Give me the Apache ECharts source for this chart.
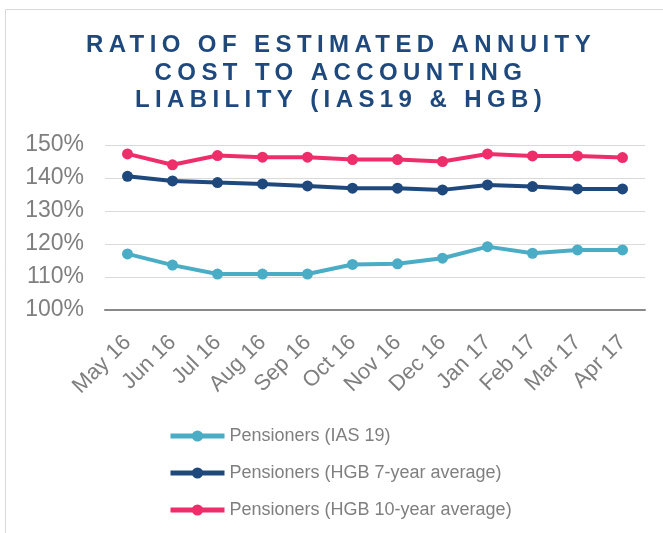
<!DOCTYPE html>
<html>
<head>
<meta charset="utf-8">
<title>Ratio of estimated annuity cost to accounting liability</title>
<script src="https://cdn.jsdelivr.net/npm/echarts@6/dist/echarts.min.js"></script>
<style>
    html, body { margin: 0; padding: 0; background: #fff; }
    #main { width: 663px; height: 533px; }
</style>
</head>
<body>
<div id="main"></div>
<script>
// 月份
var months = ['May 16', 'Jun 16', 'Jul 16', 'Aug 16', 'Sep 16', 'Oct 16',
    'Nov 16', 'Dec 16', 'Jan 17', 'Feb 17', 'Mar 17', 'Apr 17'];

// 各序列数值 (%)
var ias19 = [117.0, 113.6, 110.9, 110.9, 110.9, 113.8, 114.0, 115.7, 119.2, 117.2, 118.2, 118.2];
var hgb7 = [140.5, 139.1, 138.6, 138.2, 137.6, 136.9, 136.9, 136.4, 137.9, 137.4, 136.7, 136.7];
var hgb10 = [147.3, 144.0, 146.8, 146.3, 146.3, 145.6, 145.6, 145.0, 147.3, 146.7, 146.7, 146.2];

var seriesNames = ['Pensioners (IAS 19)', 'Pensioners (HGB 7-year average)', 'Pensioners (HGB 10-year average)'];
var seriesColors = ['#4bacc6', '#1f497d', '#ee2e6b'];

// 标题字间距 (canvas letterSpacing, 只对粗体标题生效)
var origFillText = CanvasRenderingContext2D.prototype.fillText;
CanvasRenderingContext2D.prototype.fillText = function () {
    this.letterSpacing = this.font.indexOf('bold') >= 0 ? '5.4px' : '0px';
    return origFillText.apply(this, arguments);
};

var font = '"Liberation Sans", Arial, sans-serif';

var makeSeries = function (i, data) {
    return {
        name: seriesNames[i],
        type: 'line',
        data: data,
        symbol: 'circle',
        symbolSize: 11,
        color: seriesColors[i],
        lineStyle: { width: 4, color: seriesColors[i] },
        itemStyle: { color: seriesColors[i] }
    };
};

var myChart = echarts.init(document.getElementById('main'));

var option = {
    animation: false,
    backgroundColor: '#fff',
    title: {
        text: 'RATIO OF ESTIMATED ANNUITY\nCOST TO ACCOUNTING\nLIABILITY (IAS19 & HGB)',
        left: 336,
        top: 27,
        textAlign: 'center',
        textStyle: {
            fontFamily: font,
            fontWeight: 'bold',
            fontSize: 24,
            lineHeight: 27.5,
            color: '#1f497d'
        }
    },
    graphic: [{
        type: 'rect',
        z: -1,
        shape: { x: 5.5, y: 9.5, width: 720, height: 600 },
        style: { fill: 'none', stroke: '#d9d9d9', lineWidth: 1 }
    }],
    legend: {
        orient: 'vertical',
        left: 163,
        top: 422,
        itemWidth: 54,
        itemHeight: 14,
        itemGap: 19,
        data: seriesNames,
        lineStyle: { width: 5 },
        textStyle: { fontFamily: font, fontSize: 18, color: '#7f7f7f' }
    },
    grid: {
        left: 105,
        right: 18,
        top: 145,
        bottom: 223
    },
    xAxis: {
        type: 'category',
        data: months,
        boundaryGap: true,
        axisTick: { show: false },
        axisLine: { lineStyle: { color: '#898989', width: 2 } },
        axisLabel: {
            rotate: 45,
            interval: 0,
            margin: 29,
            verticalAlign: 'middle',
            fontFamily: font,
            fontSize: 22,
            color: '#7f7f7f'
        }
    },
    yAxis: {
        type: 'value',
        min: 100,
        max: 150,
        interval: 10,
        axisLine: { show: false },
        axisTick: { show: false },
        splitLine: { lineStyle: { color: '#d9d9d9', width: 1 } },
        axisLabel: {
            formatter: '{value}%',
            margin: 21,
            fontFamily: font,
            fontSize: 23,
            color: '#7f7f7f'
        }
    },
    series: [
        makeSeries(0, ias19),
        makeSeries(1, hgb7),
        makeSeries(2, hgb10)
    ]
};

myChart.setOption(option);
</script>
</body>
</html>
